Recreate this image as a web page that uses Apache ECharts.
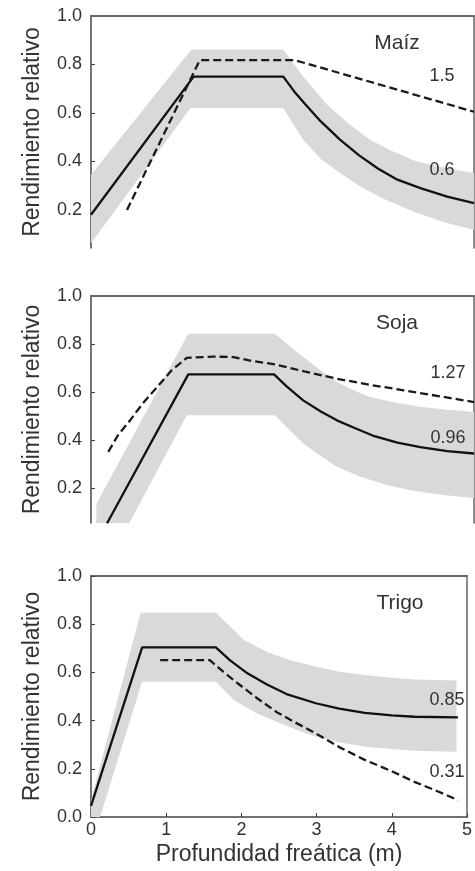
<!DOCTYPE html>
<html>
<head>
<meta charset="utf-8">
<script src="https://cdn.jsdelivr.net/npm/echarts@6/dist/echarts.min.js"></script>
<style>html,body{margin:0;padding:0;background:#fff}#c{width:475px;height:871px}</style>
</head>
<body>
<div id="c"></div>
<script>
// ---- data (x = profundidad freática m, y = rendimiento relativo) ----
var cropNames = ['Maíz', 'Soja', 'Trigo'];
var solidLabels = ['0.6', '0.96', '0.85'];
var dashedLabels = ['1.5', '1.27', '0.31'];
var xTicks = [0, 1, 2, 3, 4, 5];
var yTicks = [0.0, 0.2, 0.4, 0.6, 0.8, 1.0];

var maizSolid = [[0,0.18],[1.34,0.75],[2.51,0.75],[2.65,0.69],[2.8,0.635],[3.0,0.565],[3.25,0.49],[3.5,0.425],[3.75,0.37],[4.0,0.325],[4.3,0.29],[4.65,0.255],[5.0,0.228]];
var maizDashed = [[0.47,0.2],[1.42,0.818],[2.66,0.818],[5.0,0.605]];
var maizBandUpper = [[0,0.345],[1.31,0.862],[2.51,0.862],[2.77,0.75],[3.08,0.635],[3.35,0.56],[3.64,0.49],[3.95,0.44],[4.25,0.40],[4.6,0.375],[5.0,0.352]];
var maizBandLower = [[0,0.063],[1.3,0.62],[2.51,0.62],[2.77,0.49],[3.0,0.41],[3.25,0.352],[3.55,0.29],[3.86,0.24],[4.2,0.195],[4.6,0.15],[5.0,0.117]];

var sojaSolid = [[0.21,0.055],[1.27,0.674],[2.39,0.674],[2.55,0.625],[2.77,0.566],[3.0,0.52],[3.21,0.483],[3.45,0.45],[3.7,0.417],[4.0,0.39],[4.3,0.372],[4.65,0.355],[5.0,0.345]];
var sojaDashed = [[0.226,0.352],[0.35,0.42],[0.51,0.483],[0.68,0.555],[0.86,0.62],[1.05,0.69],[1.25,0.743],[1.6,0.748],[1.86,0.746],[2.1,0.73],[2.4,0.716],[2.8,0.685],[3.21,0.656],[3.65,0.63],[4.08,0.608],[4.55,0.583],[5.0,0.559]];
var sojaBandUpper = [[0.07,0.135],[1.27,0.843],[2.40,0.843],[2.6,0.79],[2.77,0.746],[3.0,0.69],[3.21,0.642],[3.45,0.605],[3.64,0.58],[4.0,0.555],[4.3,0.539],[4.65,0.527],[5.0,0.518]];
var sojaBandLower = [[0.07,0.055],[0.5,0.055],[1.25,0.504],[2.40,0.504],[2.6,0.44],[2.77,0.387],[3.0,0.335],[3.21,0.29],[3.5,0.25],[3.86,0.214],[4.2,0.19],[4.6,0.172],[5.0,0.16]];

var trigoSolid = [[0,0.046],[0.68,0.704],[1.66,0.704],[1.85,0.65],[2.08,0.596],[2.34,0.55],[2.6,0.51],[2.99,0.472],[3.3,0.45],[3.64,0.432],[4.0,0.422],[4.3,0.416],[4.88,0.413]];
var trigoDashed = [[0.92,0.651],[1.58,0.651],[1.75,0.605],[1.95,0.555],[2.2,0.495],[2.47,0.435],[2.7,0.395],[2.99,0.347],[3.3,0.29],[3.64,0.237],[4.0,0.19],[4.3,0.146],[4.6,0.108],[4.88,0.07]];
var trigoBandUpper = [[0,0.07],[0.66,0.848],[1.66,0.848],[1.85,0.79],[2.03,0.734],[2.34,0.685],[2.65,0.65],[2.99,0.624],[3.3,0.603],[3.64,0.589],[4.0,0.578],[4.3,0.571],[4.86,0.566]];
var trigoBandLower = [[0,0],[0.12,0],[0.68,0.561],[1.66,0.561],[1.9,0.485],[2.2,0.43],[2.47,0.395],[2.75,0.36],[2.99,0.333],[3.3,0.31],[3.64,0.292],[4.0,0.282],[4.3,0.275],[4.86,0.271]];

var solids = [maizSolid, sojaSolid, trigoSolid];
var dasheds = [maizDashed, sojaDashed, trigoDashed];
var uppers = [maizBandUpper, sojaBandUpper, trigoBandUpper];
var lowers = [maizBandLower, sojaBandLower, trigoBandLower];

// ---- layout ----
var FONT = '"Liberation Sans", Arial, sans-serif';
var grids = [
  {left: 91, right: 1, top: 16, height: 232},
  {left: 91, right: 1, top: 296, height: 227},
  {left: 91, right: 1, top: 576, height: 241}
];
var yMins = [0.043, 0.056, 0];
var axisCol = '#444';
var frameCol = '#666';
var textCol = '#333';

var xAxes = [], yAxes = [], series = [];
for (var g = 0; g < 3; g++) {
  var last = g === 2;
  xAxes.push({
    gridIndex: g, type: 'value', min: xTicks[0], max: xTicks[xTicks.length - 1], interval: 1,
    position: 'bottom',
    axisLine: {show: last, onZero: false, lineStyle: {color: axisCol, width: 1.5}},
    axisTick: {show: last, inside: true, length: 4, lineStyle: {color: axisCol}},
    axisLabel: {show: last, margin: 4, fontSize: 18, fontFamily: FONT, color: textCol, showMaxLabel: true, showMinLabel: true},
    splitLine: {show: false},
    name: last ? 'Profundidad freática (m)' : '', nameLocation: 'middle', nameGap: 26,
    nameTextStyle: {fontSize: 23, fontFamily: FONT, color: textCol}
  });
  xAxes.push({
    gridIndex: g, type: 'value', min: 0, max: 5, position: 'top',
    axisLine: {show: true, onZero: false, lineStyle: {color: frameCol, width: 1.8}},
    axisTick: {show: false}, axisLabel: {show: false}, splitLine: {show: false}
  });
  var yl = {
    gridIndex: g, type: 'value', min: yMins[g], max: 1, position: 'left',
    axisLine: {show: true, onZero: false, lineStyle: {color: axisCol, width: 1.5}},
    axisTick: {show: true, inside: true, length: 4, lineStyle: {color: axisCol}},
    axisLabel: {margin: 9, fontSize: 18, fontFamily: FONT, color: textCol, formatter: function (v) { return v.toFixed(1); }},
    splitLine: {show: false},
    name: 'Rendimiento relativo', nameLocation: 'middle', nameGap: 47, nameRotate: 90,
    nameTextStyle: {fontSize: 23, fontFamily: FONT, color: textCol}
  };
  if (last) {
    yl.interval = 0.2;
  } else {
    yl.axisLabel.customValues = yTicks.slice(1);
    yl.axisTick.customValues = yTicks.slice(1, 5);
  }
  yAxes.push(yl);
  yAxes.push({
    gridIndex: g, type: 'value', min: yMins[g], max: 1, position: 'right',
    axisLine: {show: true, onZero: false, lineStyle: {color: frameCol, width: 1.5}},
    axisTick: {show: false}, axisLabel: {show: false}, splitLine: {show: false}
  });

  (function (gi) {
    var poly = uppers[gi].concat(lowers[gi].slice().reverse());
    series.push({
      type: 'custom', xAxisIndex: gi * 2, yAxisIndex: gi * 2, clip: true, silent: true,
      data: [[0, 0]],
      renderItem: function (params, api) {
        var pts = poly.map(function (p) { return api.coord(p); });
        return {type: 'polygon', shape: {points: pts}, style: {fill: '#d9d9d9', stroke: null}};
      },
      z: 1
    });
  })(g);
  series.push({
    type: 'line', xAxisIndex: g * 2, yAxisIndex: g * 2, data: solids[g], symbol: 'none',
    lineStyle: {color: '#111', width: 2.3}, z: 3, silent: true
  });
  series.push({
    type: 'line', xAxisIndex: g * 2, yAxisIndex: g * 2, data: dasheds[g], symbol: 'none',
    lineStyle: {color: '#1a1a1a', width: 2.3, type: [8, 4]}, z: 3, silent: true
  });
}

// annotation text positions (pixels)
var ann = [
  {t: cropNames[0], x: 397, y: 43, s: 21},
  {t: dashedLabels[0], x: 442, y: 76, s: 18},
  {t: solidLabels[0], x: 442, y: 170, s: 18},
  {t: cropNames[1], x: 397, y: 323, s: 21},
  {t: dashedLabels[1], x: 448, y: 373, s: 18},
  {t: solidLabels[1], x: 448, y: 438, s: 18},
  {t: cropNames[2], x: 400, y: 603, s: 21},
  {t: solidLabels[2], x: 447, y: 700, s: 18},
  {t: dashedLabels[2], x: 447, y: 772, s: 18}
];
var graphics = ann.map(function (a) {
  return {type: 'text', x: a.x, y: a.y, z: 10,
    style: {text: a.t, fill: textCol, font: a.s + 'px ' + FONT, textAlign: 'center', textVerticalAlign: 'middle'}};
});

var chart = echarts.init(document.getElementById('c'), null, {renderer: 'canvas'});
chart.setOption({
  animation: false,
  grid: grids,
  xAxis: xAxes,
  yAxis: yAxes,
  series: series,
  graphic: graphics
});
</script>
</body>
</html>
